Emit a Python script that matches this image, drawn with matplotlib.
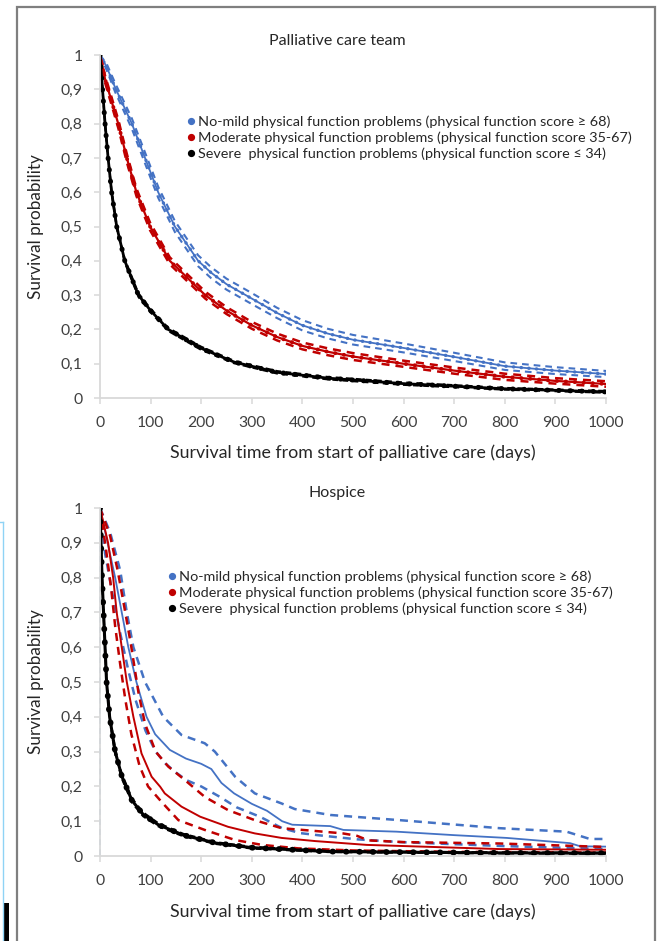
import matplotlib
matplotlib.use("Agg")
import matplotlib.pyplot as plt
from matplotlib.lines import Line2D
from matplotlib.patches import Rectangle
from matplotlib.ticker import FuncFormatter

plt.rcParams['font.family'] = ['Lato', 'DejaVu Sans']

# ---------------- data: palliative care team ----------------
pct_blue_days = [0, 13, 30, 63, 89, 115, 148, 194, 220, 250, 300, 350, 400, 450, 500, 600, 700, 800, 900, 1000]
pct_blue = [1.0, 0.966, 0.905, 0.80, 0.70, 0.60, 0.50, 0.40, 0.365, 0.332, 0.29, 0.248, 0.212, 0.188, 0.17, 0.146, 0.12, 0.093, 0.08, 0.07]
pct_blue_hi = [1.0, 0.975, 0.918, 0.815, 0.716, 0.616, 0.516, 0.416, 0.381, 0.348, 0.306, 0.263, 0.227, 0.202, 0.184, 0.159, 0.132, 0.104, 0.09, 0.079]
pct_blue_lo = [1.0, 0.957, 0.892, 0.785, 0.684, 0.584, 0.484, 0.384, 0.349, 0.316, 0.274, 0.233, 0.197, 0.174, 0.156, 0.133, 0.108, 0.082, 0.07, 0.061]

pct_red_days = [0, 10, 36, 53, 72, 99, 138, 208, 250, 300, 350, 400, 450, 500, 600, 700, 800, 900, 1000]
pct_red = [1.0, 0.93, 0.80, 0.70, 0.60, 0.50, 0.40, 0.30, 0.255, 0.212, 0.178, 0.152, 0.135, 0.121, 0.10, 0.08, 0.062, 0.05, 0.041]
pct_red_hi = [1.0, 0.94, 0.812, 0.712, 0.611, 0.511, 0.41, 0.31, 0.265, 0.222, 0.188, 0.162, 0.145, 0.131, 0.109, 0.089, 0.071, 0.058, 0.049]
pct_red_lo = [1.0, 0.92, 0.788, 0.688, 0.589, 0.489, 0.39, 0.29, 0.245, 0.202, 0.168, 0.142, 0.125, 0.111, 0.091, 0.071, 0.053, 0.042, 0.033]

pct_blk_days = [0, 5, 10, 16, 23, 33, 49, 76, 100, 135, 200, 265, 350, 450, 600, 800, 1000]
pct_blk = [1.0, 0.90, 0.80, 0.70, 0.60, 0.50, 0.40, 0.30, 0.255, 0.20, 0.145, 0.105, 0.075, 0.058, 0.042, 0.027, 0.018]
pct_blk_hi = [1.0, 0.905, 0.806, 0.706, 0.606, 0.506, 0.406, 0.306, 0.261, 0.205, 0.15, 0.109, 0.079, 0.062, 0.046, 0.030, 0.021]
pct_blk_lo = [1.0, 0.895, 0.794, 0.694, 0.594, 0.494, 0.394, 0.294, 0.249, 0.195, 0.14, 0.101, 0.071, 0.054, 0.038, 0.024, 0.015]

# ---------------- data: hospice ----------------
hos_blue_days = [0, 15, 30, 43, 56, 72, 92, 109, 138, 170, 200, 220, 240, 265, 300, 330, 360, 380, 455, 481, 586, 700, 804, 929, 949, 1000]
hos_blue = [1.0, 0.90, 0.80, 0.70, 0.60, 0.50, 0.40, 0.35, 0.305, 0.28, 0.265, 0.25, 0.21, 0.18, 0.15, 0.13, 0.10, 0.09, 0.086, 0.075, 0.07, 0.06, 0.052, 0.037, 0.028, 0.027]
hos_blue_hi_days = [0, 20, 40, 53, 66, 89, 125, 161, 207, 227, 267, 306, 359, 385, 455, 593, 790, 922, 968, 1000]
hos_blue_hi = [1.0, 0.93, 0.82, 0.70, 0.60, 0.50, 0.40, 0.348, 0.324, 0.30, 0.228, 0.18, 0.151, 0.135, 0.118, 0.103, 0.08, 0.07, 0.049, 0.049]
hos_blue_lo_days = [0, 10, 25, 40, 55, 70, 90, 110, 130, 150, 171, 200, 237, 270, 316, 360, 395, 430, 508, 593, 790, 1000]
hos_blue_lo = [1.0, 0.87, 0.75, 0.64, 0.54, 0.45, 0.36, 0.30, 0.265, 0.24, 0.218, 0.20, 0.17, 0.14, 0.113, 0.08, 0.066, 0.06, 0.048, 0.04, 0.029, 0.02]
hos_blue_zero_days = [0, 0]
hos_blue_zero = [0.92, 0.0]

hos_red_days = [0, 16, 26, 33, 43, 53, 66, 82, 102, 119, 128, 161, 198, 253, 306, 359, 425, 527, 790, 1000]
hos_red = [1.0, 0.90, 0.80, 0.70, 0.60, 0.50, 0.40, 0.295, 0.228, 0.199, 0.18, 0.142, 0.113, 0.084, 0.065, 0.052, 0.043, 0.032, 0.02, 0.018]
hos_red_hi_days = [0, 20, 35, 50, 62, 76, 89, 110, 135, 168, 207, 253, 306, 359, 425, 480, 508, 530, 600, 790, 1000]
hos_red_hi = [1.0, 0.92, 0.82, 0.70, 0.60, 0.47, 0.38, 0.30, 0.257, 0.218, 0.17, 0.132, 0.103, 0.08, 0.072, 0.065, 0.058, 0.045, 0.04, 0.036, 0.026]
hos_red_lo_days = [0, 12, 22, 30, 40, 50, 62, 78, 95, 122, 155, 207, 267, 320, 392, 500, 700, 1000]
hos_red_lo = [1.0, 0.88, 0.77, 0.66, 0.55, 0.45, 0.35, 0.26, 0.20, 0.155, 0.103, 0.075, 0.046, 0.032, 0.022, 0.016, 0.012, 0.01]

hos_blk_days = [0, 2, 4, 7, 10, 13, 19, 30, 43, 63, 85, 115, 165, 230, 300, 450, 600, 800, 1000]
hos_blk = [1.0, 0.90, 0.80, 0.70, 0.60, 0.50, 0.40, 0.30, 0.23, 0.16, 0.12, 0.09, 0.06, 0.037, 0.024, 0.013, 0.011, 0.009, 0.008]
hos_blk_hi = [1.0, 0.91, 0.81, 0.71, 0.61, 0.51, 0.41, 0.31, 0.238, 0.167, 0.126, 0.095, 0.064, 0.040, 0.027, 0.015, 0.013, 0.011, 0.010]
hos_blk_lo = [1.0, 0.89, 0.79, 0.69, 0.59, 0.49, 0.39, 0.29, 0.222, 0.153, 0.114, 0.085, 0.056, 0.034, 0.021, 0.011, 0.009, 0.007, 0.006]

x_ticks = [0, 100, 200, 300, 400, 500, 600, 700, 800, 900, 1000]
y_ticks = [0, 0.1, 0.2, 0.3, 0.4, 0.5, 0.6, 0.7, 0.8, 0.9, 1.0]
legend_labels = [
    'No-mild physical function problems (physical function score \u2265 68)',
    'Moderate physical function problems (physical function score 35-67)',
    'Severe  physical function problems (physical function score \u2264 34)',
]

BLUE = '#4472C4'
RED = '#C00000'
BLACK = '#000000'
AXC = '#D9D9D9'
TXT = '#404040'

fig = plt.figure(figsize=(6.57, 9.41), dpi=100)
fig.patch.set_facecolor('white')


def comma_fmt(v, pos):
    if abs(v) < 1e-9:
        return '0'
    if abs(v - 1) < 1e-9:
        return '1'
    return f'{v:.1f}'.replace('.', ',')


def style_axes(ax, title, title_y):
    ax.set_xlim(0, 1000)
    ax.set_ylim(0, 1)
    ax.set_xticks(x_ticks)
    ax.set_yticks(y_ticks)
    ax.yaxis.set_major_formatter(FuncFormatter(comma_fmt))
    for s in ['top', 'right']:
        ax.spines[s].set_visible(False)
    for s in ['left', 'bottom']:
        ax.spines[s].set_color(AXC)
        ax.spines[s].set_linewidth(1.3)
    ax.tick_params(axis='both', colors=AXC, labelcolor=TXT, labelsize=11.3,
                   length=4, width=1.1, direction='out')
    ax.tick_params(axis='y', pad=8.5)
    ax.tick_params(axis='x', pad=9)
    ax.set_xlabel('Survival time from start of palliative care (days)',
                  fontsize=12.8, color='#262626')
    ax.set_ylabel('Survival probability', fontsize=12.3, color='#262626')
    ax.xaxis.set_label_coords(0.5, -0.135)
    ax.yaxis.set_label_coords(-0.11, 0.5)
    ax.text(0.468, title_y, title, transform=ax.transAxes, ha='center',
            va='center', fontsize=11.5, color='#262626')


def km(ax, days, vals, color, lw=1.3, dots=False, dot_lw=3.6):
    ax.plot(days, vals, color=color, lw=lw, solid_joinstyle='round')
    if dots:
        ax.plot(days, vals, color=color, lw=dot_lw, linestyle=(0, (0.1, 2.2)),
                dash_capstyle='round')


def ci(ax, days, vals, color, lw=1.5):
    ax.plot(days, vals, color=color, lw=lw, linestyle=(0, (3.2, 2.4)))


# ---------------- top: palliative care team ----------------
ax1 = fig.add_axes([0.1522, 0.577, 0.7702, 0.3645])
ci(ax1, pct_blue_days, pct_blue_hi, BLUE)
ci(ax1, pct_blue_days, pct_blue_lo, BLUE)
km(ax1, pct_blue_days, pct_blue, BLUE, lw=1.3, dots=True, dot_lw=2.4)
ci(ax1, pct_red_days, pct_red_hi, RED, lw=1.8)
ci(ax1, pct_red_days, pct_red_lo, RED, lw=1.8)
km(ax1, pct_red_days, pct_red, RED, lw=1.6, dots=True, dot_lw=2.8)
ci(ax1, pct_blk_days, pct_blk_hi, BLACK, lw=1.3)
ci(ax1, pct_blk_days, pct_blk_lo, BLACK, lw=1.3)
km(ax1, pct_blk_days, pct_blk, BLACK, lw=2.0, dots=True)
style_axes(ax1, 'Palliative care team', 1.04)

# ---------------- bottom: hospice ----------------
ax2 = fig.add_axes([0.1522, 0.0903, 0.7702, 0.3698])
ax2.plot(hos_blue_zero_days, hos_blue_zero, color='#9DC3E6', lw=1.3,
         linestyle=(0, (3.2, 2.4)), clip_on=False)
ci(ax2, hos_blue_hi_days, hos_blue_hi, BLUE, lw=1.8)
ci(ax2, hos_blue_lo_days, hos_blue_lo, BLUE, lw=1.8)
km(ax2, hos_blue_days, hos_blue, BLUE, lw=1.3)
ci(ax2, hos_red_hi_days, hos_red_hi, RED, lw=1.8)
ci(ax2, hos_red_lo_days, hos_red_lo, RED, lw=1.8)
km(ax2, hos_red_days, hos_red, RED, lw=1.4)
ci(ax2, hos_blk_days, hos_blk_hi, BLACK, lw=1.3)
ci(ax2, hos_blk_days, hos_blk_lo, BLACK, lw=1.3)
km(ax2, hos_blk_days, hos_blk, BLACK, lw=2.2, dots=True, dot_lw=4.2)
style_axes(ax2, 'Hospice', 1.043)

# legends
handles = [Line2D([], [], color=c, marker='o', markersize=4.2, linestyle='none')
           for c in (BLUE, RED, BLACK)]
for ax, anchor in ((ax1, (0.175, 0.823)), (ax2, (0.137, 0.8195))):
    leg = ax.legend(handles, legend_labels, loc='upper left', bbox_to_anchor=anchor,
                    frameon=False, fontsize=10.4, handlelength=0.35,
                    handletextpad=0.3, borderpad=0, borderaxespad=0,
                    labelspacing=0.22)
    for t in leg.get_texts():
        t.set_color('#262626')

# page frame and edge artefacts from the original crop
fig.add_artist(Rectangle((17 / 657, -0.02), (655 - 17) / 657, 1.02 - 7 / 941,
                         transform=fig.transFigure, fill=False,
                         edgecolor='#7F7F7F', linewidth=1.6))
fig.add_artist(Line2D([3 / 657, 3 / 657], [0, 1 - 522 / 941], transform=fig.transFigure,
                      color='#8FD3F5', lw=1.0))
fig.add_artist(Line2D([0, 3 / 657], [1 - 522 / 941, 1 - 522 / 941], transform=fig.transFigure,
                      color='#8FD3F5', lw=1.0))
fig.add_artist(Rectangle((3.5 / 657, 0), 5.5 / 657, 38 / 941, transform=fig.transFigure,
                         facecolor='black', edgecolor='none'))

fig.savefig('out.png', dpi=100, facecolor='white')
